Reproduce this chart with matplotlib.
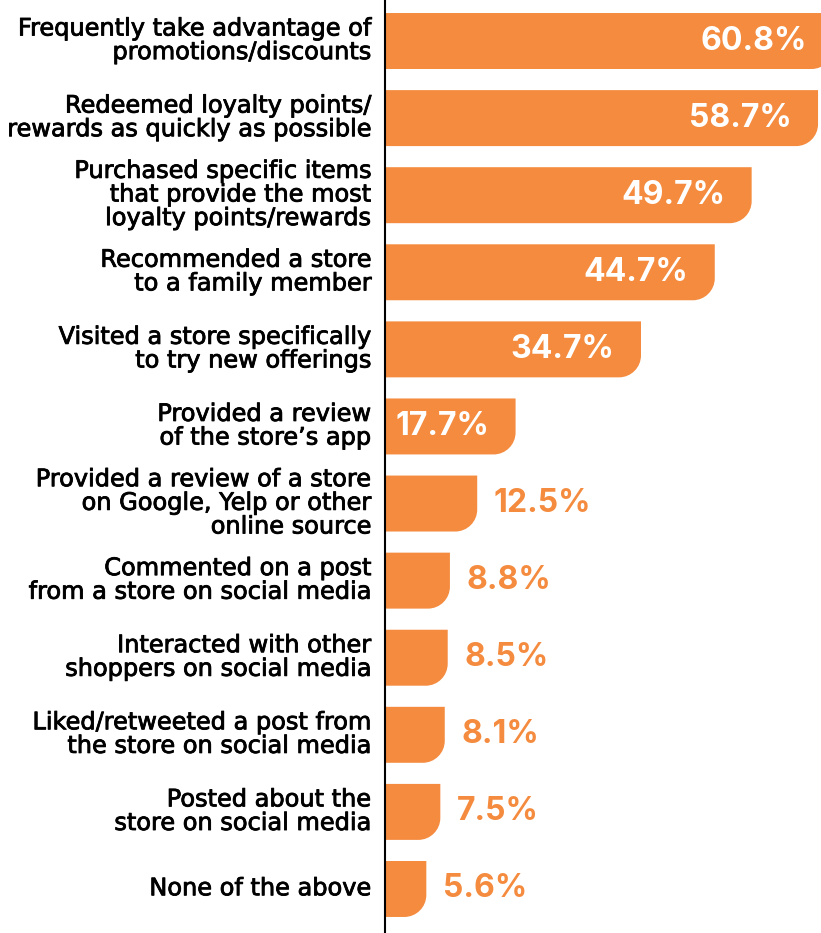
import matplotlib.pyplot as plt
import matplotlib.patheffects as pe
from matplotlib.path import Path
from matplotlib.patches import PathPatch

categories = [
    "Frequently take advantage of\npromotions/discounts",
    "Redeemed loyalty points/\nrewards as quickly as possible",
    "Purchased specific items\nthat provide the most\nloyalty points/rewards",
    "Recommended a store\nto a family member",
    "Visited a store specifically\nto try new offerings",
    "Provided a review\nof the store\u2019s app",
    "Provided a review of a store\non Google, Yelp or other\nonline source",
    "Commented on a post\nfrom a store on social media",
    "Interacted with other\nshoppers on social media",
    "Liked/retweeted a post from\nthe store on social media",
    "Posted about the\nstore on social media",
    "None of the above",
]
values = [60.8, 58.7, 49.7, 44.7, 34.7, 17.7, 12.5, 8.8, 8.5, 8.1, 7.5, 5.6]

orange = "#F48B3E"
W, H = 821, 933
fig = plt.figure(figsize=(W / 100, H / 100), dpi=100)
ax = fig.add_axes([385 / W, 0, 1 - 385 / W, 1])

ax.set_xlim(0, 59.1)
ax.set_ylim(11.571, -0.532)
bar_h = 0.726

# corner radius in pixels -> data units
px_x = ax.transData.transform([(1, 0)])[0][0] - ax.transData.transform([(0, 0)])[0][0]
px_y = abs(ax.transData.transform([(0, 1)])[0][1] - ax.transData.transform([(0, 0)])[0][1])
rx, ry = 22 / px_x, 22 / px_y
k = 0.5523

# slightly heavier label text
medium = [pe.withStroke(linewidth=0.6, foreground="black")]

for i, (label, v) in enumerate(zip(categories, values)):
    top, bot = i - bar_h / 2, i + bar_h / 2
    verts = [(0, top), (v, top), (v, bot - ry),
             (v, bot - ry * (1 - k)), (v - rx * (1 - k), bot), (v - rx, bot),
             (0, bot), (0, top)]
    codes = [Path.MOVETO, Path.LINETO, Path.LINETO,
             Path.CURVE4, Path.CURVE4, Path.CURVE4,
             Path.LINETO, Path.CLOSEPOLY]
    ax.add_patch(PathPatch(Path(verts, codes), facecolor=orange, edgecolor="none"))

    txt = f"{v}%"
    if v > 15:
        ax.annotate(txt, (v, i), xytext=(-19, 0), textcoords="offset points",
                    ha="right", va="center", color="white", fontsize=23,
                    fontweight="bold", family="Inter", annotation_clip=False)
    else:
        ax.annotate(txt, (v, i), xytext=(12, 0), textcoords="offset points",
                    ha="left", va="center", color=orange, fontsize=23,
                    fontweight="bold", family="Inter", annotation_clip=False)

    ax.annotate(label, (0, i), xytext=(-10, 0.5), textcoords="offset points",
                ha="right", va="center", ma="right", color="black",
                fontsize=17.3, family="DejaVu Sans", path_effects=medium,
                linespacing=0.98, annotation_clip=False)

ax.set_xticks([])
ax.set_yticks([])
for s in ["top", "right", "bottom"]:
    ax.spines[s].set_visible(False)
ax.spines["left"].set_linewidth(1.5)

fig.savefig("out.png", dpi=100)
